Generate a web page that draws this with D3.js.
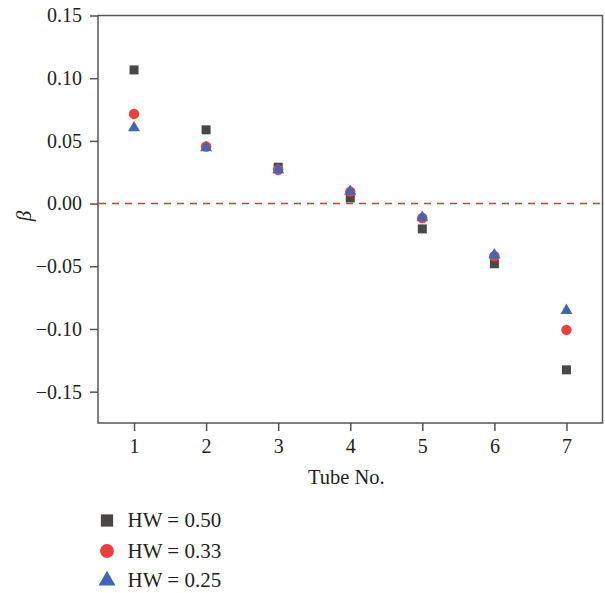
<!DOCTYPE html>
<html>
<head>
<meta charset="utf-8">
<script src="https://cdn.jsdelivr.net/npm/d3@7"></script>
<style>
  html, body { margin: 0; padding: 0; background: #fff; }
  svg text { font-family: "Liberation Serif", "Times New Roman", serif; fill: #231f20; }
</style>
</head>
<body>
<svg id="chart" width="605" height="593"></svg>
<script>
const tubes = [1, 2, 3, 4, 5, 6, 7];
const hw050 = [0.1066, 0.0588, 0.0290, 0.0045, -0.0202, -0.0480, -0.1326];
const hw033 = [0.0715, 0.0455, 0.0270, 0.0095, -0.0115, -0.0420, -0.1007];
const hw025 = [0.0604, 0.0444, 0.0269, 0.0098, -0.0110, -0.0410, -0.0853];
const yTicks = [0.15, 0.10, 0.05, 0.00, -0.05, -0.10, -0.15];
const seriesLabels = ["HW = 0.50", "HW = 0.33", "HW = 0.25"];

const series = [
  { label: seriesLabels[0], values: hw050, symbol: d3.symbolSquare, size: 81, legendSize: 150, color: "#4a4747" },
  { label: seriesLabels[1], values: hw033, symbol: d3.symbolCircle, size: 85, legendSize: 150, color: "#e8403a" },
  { label: seriesLabels[2], values: hw025, symbol: d3.symbolTriangle, size: 62, legendSize: 125, color: "#4266b5" }
];

const svg = d3.select("#chart");
const L = 98, R = 602.5, T = 15.5, B = 423;

const x = d3.scaleLinear().domain([0.5, 7.5]).range([L, R]);
const y = d3.scaleLinear().domain([-0.175, 0.15]).range([B, T]);

const axisColor = "#555";
const fmt = v => (v < 0 ? "\u2212" : "") + d3.format(".2f")(Math.abs(v));

// frame
svg.append("rect").attr("x", L).attr("y", T).attr("width", R - L).attr("height", B - T)
  .attr("fill", "none").attr("stroke", axisColor).attr("stroke-width", 1.5);

// y axis
const yAxis = svg.append("g").attr("transform", `translate(${L},0)`)
  .call(d3.axisLeft(y).tickValues(yTicks).tickFormat(fmt).tickSize(8).tickPadding(8));
yAxis.select(".domain").remove();
yAxis.selectAll(".tick line").attr("stroke", axisColor).attr("stroke-width", 1.5);
yAxis.selectAll(".tick text").style("font-size", "20px").attr("fill", "#231f20");

// x axis
const xAxis = svg.append("g").attr("transform", `translate(0,${B})`)
  .call(d3.axisBottom(x).tickValues(tubes).tickFormat(d3.format("d")).tickSize(8).tickPadding(8));
xAxis.select(".domain").remove();
xAxis.selectAll(".tick line").attr("stroke", axisColor).attr("stroke-width", 1.5);
xAxis.selectAll(".tick text").style("font-size", "20px").attr("fill", "#231f20");

// zero dashed line
svg.append("line").attr("x1", L + 1).attr("x2", R - 1).attr("y1", y(0)).attr("y2", y(0))
  .attr("stroke", "#e0342c").attr("stroke-width", 1.5).attr("stroke-dasharray", "7,6");

// points
series.forEach(s => {
  svg.append("g").selectAll("path").data(tubes).join("path")
    .attr("d", d3.symbol().type(s.symbol).size(s.size))
    .attr("transform", (d, i) => `translate(${x(d)},${y(s.values[i])})`)
    .attr("fill", s.color);
});

// axis titles
svg.append("text").attr("x", (L + R) / 2 - 4).attr("y", 484).attr("text-anchor", "middle")
  .style("font-size", "20.5px").text("Tube No.");
svg.append("text").attr("transform", "translate(31,216) rotate(-90)").attr("text-anchor", "middle")
  .style("font-size", "21px").style("font-style", "italic").text("\u03B2");

// legend
const legY = [520.5, 551, 580.5];
series.forEach((s, i) => {
  svg.append("path").attr("d", d3.symbol().type(s.symbol).size(s.legendSize))
    .attr("transform", `translate(107,${legY[i]})`).attr("fill", s.color);
  svg.append("text").attr("x", 127.5).attr("y", legY[i] + 6.5)
    .style("font-size", "21px").text(s.label);
});
</script>
</body>
</html>
